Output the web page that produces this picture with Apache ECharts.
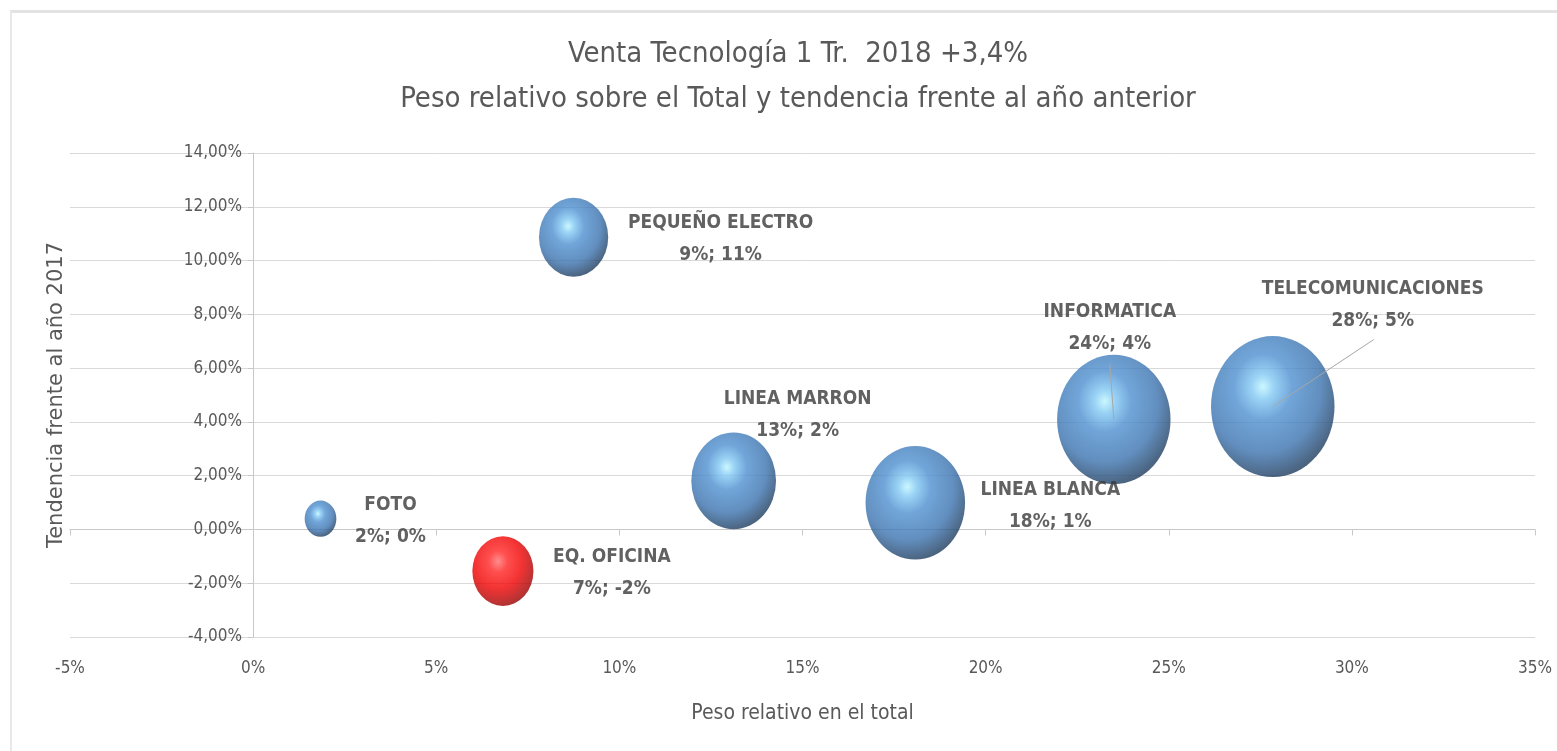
<!doctype html>
<html>

<head>
<meta charset="utf-8">
<title>Venta Tecnología 1 Tr. 2018</title>
<style>
html, body {
	margin: 0;
	padding: 0;
	background: #fff;
}

.frame {
	position: absolute;
	left: 10px;
	top: 10px;
	width: 1547px;
	height: 741px;
	border-top: 3px solid #e3e3e3;
	border-left: 2px solid #e8e8e8;
	box-sizing: border-box;
	pointer-events: none;
}

.main {
	width: 1557px;
	height: 751px;
}
</style>
</head>

<body>
	<div class="main" id="main"></div>
	<div class="frame"></div>

	<script src="https://cdn.jsdelivr.net/npm/echarts@6.0.0/dist/echarts.min.js"></script>
	<script>
    // datos: peso relativo (%) y tendencia (%)
    var categorias = ['FOTO', 'EQ. OFICINA', 'PEQUEÑO ELECTRO', 'LINEA MARRON', 'LINEA BLANCA', 'INFORMATICA', 'TELECOMUNICACIONES'];
    var peso = [1.84, 6.82, 8.75, 13.12, 18.08, 23.5, 27.84];
    var tendencia = [0.40, -1.55, 10.87, 1.81, 0.99, 4.09, 4.57];
    var xTicks = [-5, 0, 5, 10, 15, 20, 25, 30, 35];
    var yTicks = [-4, -2, 0, 2, 4, 6, 8, 10, 12, 14];

    // desplazamiento de cada etiqueta respecto a su burbuja (px)
    var labelOffsets = [[70, 2], [109, 2], [147, 2], [64, -66], [135, 3], [-4, -91], [100, -101]];
    // lineas guia: extremo junto a la etiqueta, relativo al centro de la burbuja (px)
    var guias = [null, null, null, null, null, [-4, -56], [101, -67]];

    var font = '"Liberation Sans Narrow", "DejaVu Sans Condensed", sans-serif';
    var gris = '#595959';

    function sphere(stops) {
      return {
        type: 'radial', x: 0.42, y: 0.36, r: 0.78,
        colorStops: stops.map(function (s) {
          return { offset: s[0], color: s[1] };
        })
      };
    }
    var azul = sphere([[0, '#bdf6ff'], [0.12, '#7fc6f2'], [0.3, '#4e8fd0'], [0.6, '#3a72ae'], [0.82, '#1f3f63'], [1, '#0d1e32']]);
    var rojo = sphere([[0, '#ff7070'], [0.2, '#ff2222'], [0.5, '#f00000'], [0.8, '#a30000'], [1, '#4e0000']]);

    var datos = categorias.map(function (c, i) {
      return {
        name: c,
        value: [peso[i], tendencia[i]],
        itemStyle: { color: c == 'EQ. OFICINA' ? rojo : azul }
      };
    });

    function fmtY(v) {
      return v.toFixed(2).replace('.', ',') + '%';
    }

    var myChart = echarts.init(document.getElementById('main'));

    var ejeX = {
      type: 'value',
      min: xTicks[0],
      max: xTicks[xTicks.length - 1],
      interval: 5
    };
    var ejeY = {
      type: 'value',
      min: yTicks[0],
      max: yTicks[yTicks.length - 1],
      interval: 2
    };

    var option = {
      animation: false,
      title: {
        text: 'Venta Tecnología 1 Tr.  2018 +3,4%\nPeso relativo sobre el Total y tendencia frente al año anterior',
        left: 793,
        textAlign: 'center',
        top: 27,
        textStyle: {
          fontFamily: font,
          fontSize: 29,
          fontWeight: 'normal',
          color: gris,
          lineHeight: 45,
          align: 'center'
        }
      },
      grid: {
        left: 70,
        right: 22,
        top: 153,
        bottom: 114,
        containLabel: false,
        outerBoundsMode: 'none'
      },
      xAxis: [
        // linea del eje en y = 0 con sus marcas
        echarts.util.extend({
          position: 'bottom',
          axisLine: { show: true, onZero: true, lineStyle: { color: '#c8c8c8' } },
          axisTick: { show: true, length: 6, lineStyle: { color: '#c8c8c8' } },
          axisLabel: { show: false },
          splitLine: { show: false }
        }, ejeX),
        // etiquetas al pie del grafico
        echarts.util.extend({
          position: 'bottom',
          name: 'Peso relativo en el total',
          nameLocation: 'middle',
          nameGap: 66,
          nameTextStyle: { fontFamily: font, fontSize: 21, color: gris },
          axisLine: { show: false, onZero: false },
          axisTick: { show: false },
          axisLabel: {
            margin: 23,
            fontFamily: font,
            fontSize: 17,
            color: gris,
            formatter: '{value}%'
          },
          splitLine: { show: false }
        }, ejeX)
      ],
      yAxis: [
        echarts.util.extend({
          position: 'left',
          axisLine: { show: true, onZero: true, lineStyle: { color: '#c8c8c8' } },
          axisTick: { show: false },
          axisLabel: { show: false },
          splitLine: { show: true, lineStyle: { color: '#d9d9d9', width: 1 } }
        }, ejeY),
        echarts.util.extend({
          position: 'left',
          offset: -183,
          name: 'Tendencia frente al año 2017',
          nameLocation: 'middle',
          nameGap: 186,
          nameTextStyle: { fontFamily: 'DejaVu Sans, sans-serif', fontSize: 21, color: gris },
          axisLine: { show: false, onZero: false },
          axisTick: { show: true, length: 5, lineStyle: { color: '#c8c8c8' } },
          axisLabel: {
            margin: 11,
            fontFamily: font,
            fontSize: 17,
            color: gris,
            formatter: fmtY
          },
          splitLine: { show: false }
        }, ejeY)
      ],
      series: [{
        type: 'scatter',
        xAxisIndex: 0,
        yAxisIndex: 0,
        data: datos,
        symbol: 'circle',
        symbolSize: function (v) {
          var s = Math.sqrt(v[0]);
          return [23.4 * s, 26.7 * s];
        },
        label: {
          show: true,
          position: 'inside',
          fontFamily: font,
          fontSize: 19,
          fontWeight: 'bold',
          color: '#3a3a3a',
          lineHeight: 32,
          align: 'center',
          formatter: function (p) {
            return p.name + '\n' + Math.round(p.value[0]) + '%; ' + Math.round(p.value[1]) + '%';
          }
        },
        labelLayout: function (p) {
          var o = labelOffsets[p.dataIndex];
          return { dx: o[0], dy: o[1] };
        },
        emphasis: { disabled: true }
      }]
    };

    myChart.setOption(option);

    // lineas guia desde el centro de la burbuja hasta su etiqueta
    var lineas = [];
    categorias.forEach(function (c, i) {
      if (!guias[i]) return;
      var p = myChart.convertToPixel({ seriesIndex: 0 }, [peso[i], tendencia[i]]);
      lineas.push({
        type: 'line',
        z: 100,
        silent: true,
        shape: { x1: p[0], y1: p[1], x2: p[0] + guias[i][0], y2: p[1] + guias[i][1] },
        style: { stroke: '#a6a6a6', lineWidth: 1 }
      });
    });
    myChart.setOption({ graphic: lineas });
  </script>
</body>

</html>
